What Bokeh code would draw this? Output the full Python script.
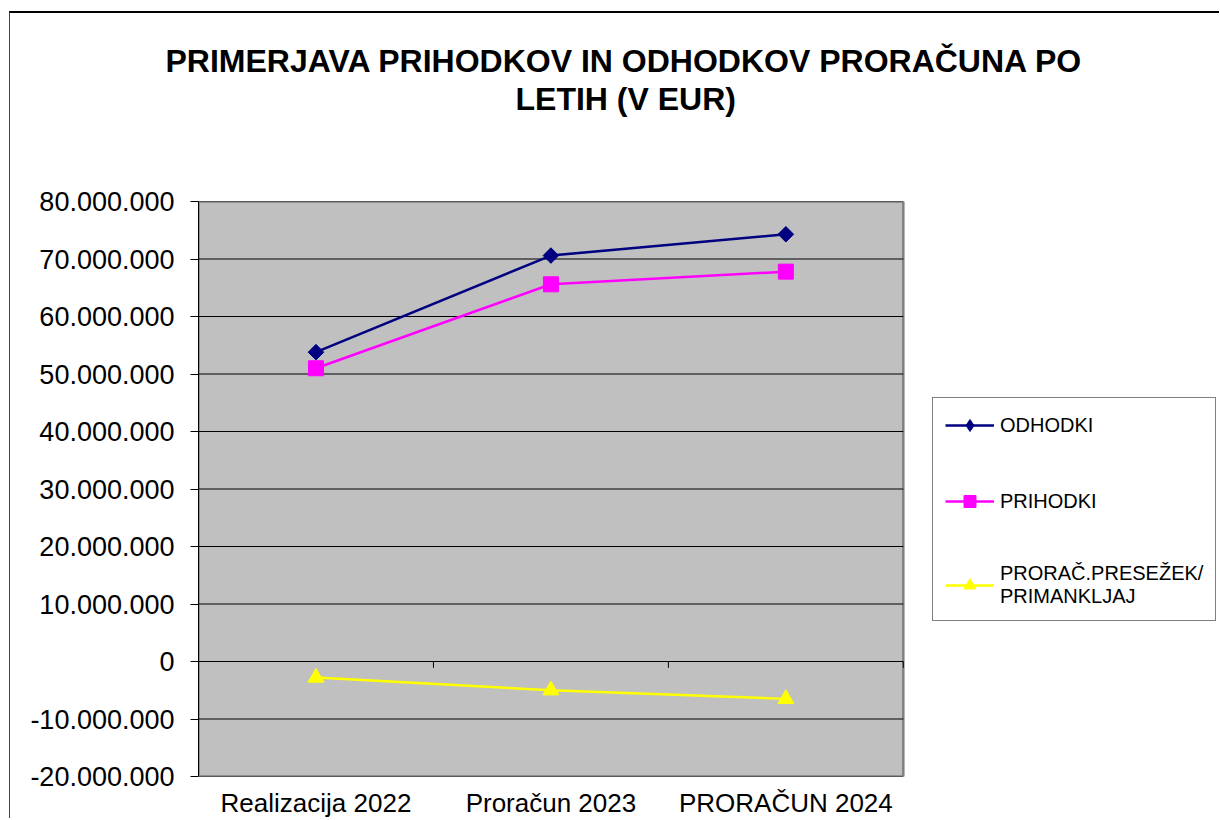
import math
from bokeh.plotting import figure
from bokeh.models import Legend, LegendItem, FixedTicker, Title
from bokeh.embed import file_html
from bokeh.resources import INLINE

categories = ["Realizacija 2022", "Proračun 2023", "PRORAČUN 2024"]
odhodki = [53.8e6, 70.6e6, 74.3e6]
prihodki = [51.0e6, 65.6e6, 67.8e6]
presezek = [-2.8e6, -5.0e6, -6.5e6]
series_names = ["ODHODKI", "PRIHODKI", "PRORAČ.PRESEŽEK/\nPRIMANKLJAJ"]
y_ticks = [-20e6, -10e6, 0, 10e6, 20e6, 30e6, 40e6, 50e6, 60e6, 70e6, 80e6]
y_tick_labels = ["-20.000.000", "-10.000.000", "0", "10.000.000", "20.000.000",
                 "30.000.000", "40.000.000", "50.000.000", "60.000.000",
                 "70.000.000", "80.000.000"]
title_line1 = "PRIMERJAVA PRIHODKOV IN ODHODKOV PRORAČUNA PO"
title_line2 = "LETIH (V EUR)"

FONT = "Liberation Sans"
n = len(categories)
xs = list(range(1, n + 1))
bounds = [x + 0.5 for x in xs]
x_lo, x_hi = 0.5, n + 0.5
y_lo, y_hi = y_ticks[0], y_ticks[-1]

p = figure(width=1210, height=807, x_range=(x_lo, 4.85), y_range=(y_lo, y_hi),
           output_backend="svg", toolbar_location=None,
           min_border_left=188, min_border_right=0, min_border_top=188,
           min_border_bottom=30)
p.styles = {"margin-left": "9px", "margin-top": "11px",
            "border-top": "2px solid #000", "border-left": "1px solid #444"}
p.title = None
# stacked titles (nearest to the plot first)
p.add_layout(Title(text=" ", standoff=47, text_font=FONT, text_font_size="32px"), "above")
p.add_layout(Title(text=title_line2, align="left", offset=317, standoff=0,
                   text_font=FONT, text_font_size="32px", text_font_style="bold",
                   text_color="black"), "above")
p.add_layout(Title(text=title_line1, align="left", offset=-33, standoff=0,
                   text_font=FONT, text_font_size="32px", text_font_style="bold",
                   text_color="black"), "above")

p.background_fill_color = "white"
p.border_fill_color = "white"
p.outline_line_color = None
p.grid.visible = False

# plot area
p.quad(left=[x_lo], right=[x_hi], bottom=[y_lo], top=[y_hi],
       fill_color="#C0C0C0", line_color="#808080", line_width=2.5)
p.segment(x0=[x_lo] * len(y_ticks), x1=[x_hi] * len(y_ticks), y0=y_ticks, y1=y_ticks,
          line_color="black", line_width=1)
p.segment(x0=bounds, y0=[0] * len(bounds), x1=bounds, y1=[-1.1e6] * len(bounds),
          line_color="black", line_width=1)

p.yaxis.ticker = FixedTicker(ticks=y_ticks)
p.yaxis.major_label_overrides = {t: l for t, l in zip(y_ticks, y_tick_labels)}
p.yaxis.axis_line_color = "black"
p.yaxis.major_tick_line_color = "black"
p.yaxis.major_tick_out = 8
p.yaxis.major_tick_in = 0
p.yaxis.minor_tick_line_color = None
p.yaxis.major_label_text_font = FONT
p.yaxis.major_label_text_font_size = "27px"
p.yaxis.major_label_text_color = "black"
p.yaxis.major_label_standoff = 16

p.xaxis.ticker = FixedTicker(ticks=xs)
p.xaxis.major_label_overrides = {x: c for x, c in zip(xs, categories)}
p.xaxis.axis_line_color = None
p.xaxis.major_tick_line_color = None
p.xaxis.minor_tick_line_color = None
p.xaxis.major_label_text_font = FONT
p.xaxis.major_label_text_font_size = "26px"
p.xaxis.major_label_text_color = "black"
p.xaxis.major_label_standoff = 5

l1 = p.line(xs, odhodki, line_color="#000080", line_width=2.5)
d1 = p.scatter(xs, odhodki, marker="diamond", size=14,
               fill_color="#000080", line_color="#000080")
m1 = p.scatter(xs, odhodki, marker="square", angle=math.pi / 4, size=11,
               fill_color="#000080", line_color="#000080")
l2 = p.line(xs, prihodki, line_color="#FF00FF", line_width=2.5)
m2 = p.scatter(xs, prihodki, marker="square", size=15,
               fill_color="#FF00FF", line_color="#FF00FF")
l3 = p.line(xs, presezek, line_color="#FFFF00", line_width=2.5)
m3 = p.scatter(xs, presezek, marker="triangle", size=16,
               fill_color="#FFFF00", line_color="#FFFF00")

legend = Legend(items=[
    LegendItem(label=series_names[0], renderers=[l1, d1]),
    LegendItem(label=series_names[1], renderers=[l2, m2]),
    LegendItem(label=series_names[2], renderers=[l3, m3]),
], location=(734, 155), margin=0, padding=12, spacing=46,
    glyph_width=49, glyph_height=30, label_height=20, label_standoff=6,
    label_text_font=FONT, label_text_font_size="20px", label_text_color="black",
    label_text_line_height=1.25,
    border_line_color="black", border_line_width=1,
    background_fill_color="white", background_fill_alpha=1)
p.add_layout(legend, "center")

open("out.html", "w").write(file_html(p, INLINE))
